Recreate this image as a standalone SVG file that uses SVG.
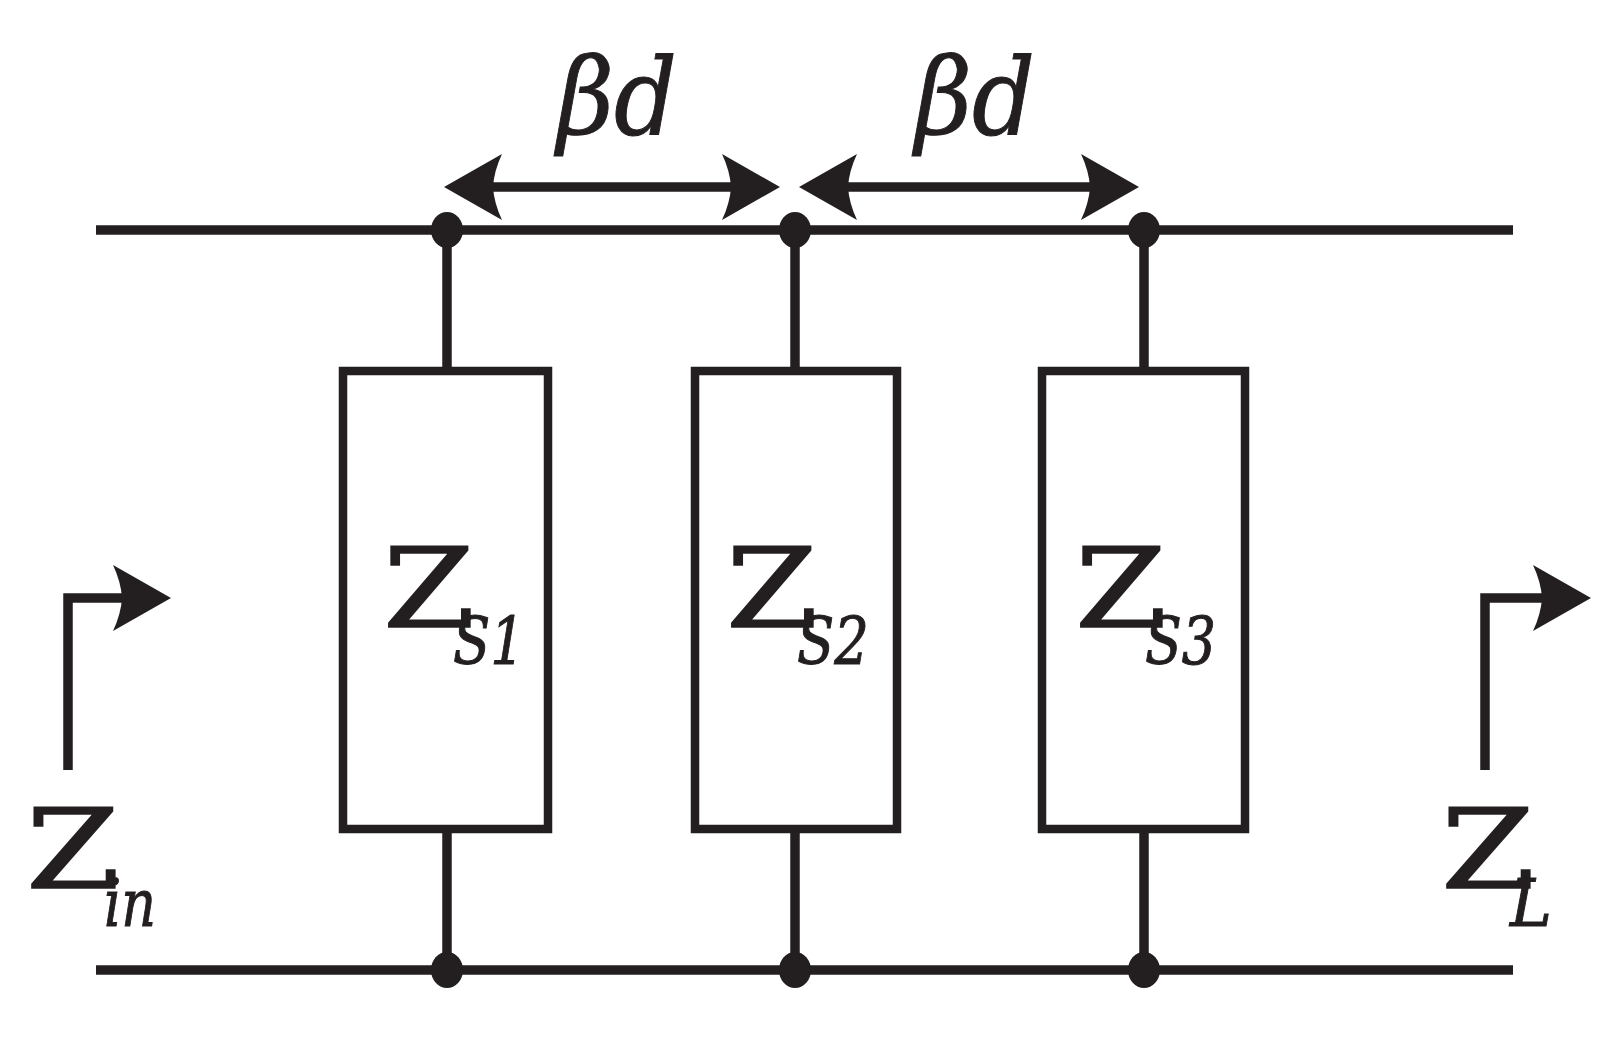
<svg xmlns="http://www.w3.org/2000/svg" width="1623" height="1038" viewBox="0 0 1623 1038">
<style>
.w{stroke:#231f20;stroke-width:9.5;fill:none}
.box{stroke:#231f20;stroke-width:8.5;fill:#fff}
.dot{fill:#231f20}
.ah{fill:#231f20}
.z{font-size:110px;stroke:#231f20;stroke-width:1.5}
.s{font-size:66px;font-style:italic;stroke:#231f20;stroke-width:1}
.bd{font-size:106px;font-style:italic;stroke:#231f20;stroke-width:1}
</style>
<defs>
<path id="head" d="M0,0 L58,-33 Q50,-16 49,0 Q50,16 58,33 Z"/>
</defs>
<rect width="1623" height="1038" fill="#fff"/>
<g id="connectors">
<line class="w" x1="96" y1="230" x2="1513" y2="230"/>
<line class="w" x1="96" y1="970" x2="1513" y2="970"/>
<line class="w" x1="447" y1="230" x2="447" y2="371"/>
<line class="w" x1="447" y1="829" x2="447" y2="970"/>
<line class="w" x1="795" y1="230" x2="795" y2="371"/>
<line class="w" x1="795" y1="829" x2="795" y2="970"/>
<line class="w" x1="1144" y1="230" x2="1144" y2="371"/>
<line class="w" x1="1144" y1="829" x2="1144" y2="970"/>
<line class="w" x1="485" y1="187" x2="740" y2="187"/>
<use href="#head" class="ah" transform="translate(444,187)"/>
<use href="#head" class="ah" transform="translate(780,187) scale(-1,1)"/>
<line class="w" x1="839" y1="187" x2="1100" y2="187"/>
<use href="#head" class="ah" transform="translate(799,187)"/>
<use href="#head" class="ah" transform="translate(1139,187) scale(-1,1)"/>
<polyline class="w" points="68,770 68,598 130,598"/>
<use href="#head" class="ah" transform="translate(171,598) scale(-1,1)"/>
<polyline class="w" points="1485,770 1485,598 1550,598"/>
<use href="#head" class="ah" transform="translate(1591,598) scale(-1,1)"/>
</g>
<g id="node-zs1" font-family="DejaVu Serif" fill="#231f20">
<rect class="box" x="343" y="371" width="205" height="458"/>
<text class="z" x="383" y="627" textLength="92" lengthAdjust="spacingAndGlyphs">Z</text>
<text class="s" x="453" y="664" textLength="72" lengthAdjust="spacingAndGlyphs">S1</text>
</g>
<g id="node-zs2" font-family="DejaVu Serif" fill="#231f20">
<rect class="box" x="695" y="371" width="202" height="458"/>
<text class="z" x="726" y="627" textLength="92" lengthAdjust="spacingAndGlyphs">Z</text>
<text class="s" x="797" y="664" textLength="72" lengthAdjust="spacingAndGlyphs">S2</text>
</g>
<g id="node-zs3" font-family="DejaVu Serif" fill="#231f20">
<rect class="box" x="1042" y="371" width="203" height="458"/>
<text class="z" x="1075" y="627" textLength="92" lengthAdjust="spacingAndGlyphs">Z</text>
<text class="s" x="1145" y="664" textLength="71" lengthAdjust="spacingAndGlyphs">S3</text>
</g>
<g id="junctions">
<ellipse class="dot" cx="447" cy="230" rx="16" ry="18"/>
<ellipse class="dot" cx="795" cy="230" rx="16" ry="18"/>
<ellipse class="dot" cx="1144" cy="230" rx="16" ry="18"/>
<ellipse class="dot" cx="447" cy="970" rx="16" ry="18"/>
<ellipse class="dot" cx="795" cy="970" rx="16" ry="18"/>
<ellipse class="dot" cx="1144" cy="970" rx="16" ry="18"/>
</g>
<g id="labels" font-family="DejaVu Serif" fill="#231f20">
<text class="bd" x="557" y="134" textLength="120" lengthAdjust="spacingAndGlyphs">βd</text>
<text class="bd" x="915" y="134" textLength="120" lengthAdjust="spacingAndGlyphs">βd</text>
<text class="z" x="26" y="888" textLength="94" lengthAdjust="spacingAndGlyphs">Z</text>
<text class="s" x="104" y="926" textLength="52" lengthAdjust="spacingAndGlyphs">in</text>
<text class="z" x="1441" y="888" textLength="94" lengthAdjust="spacingAndGlyphs">Z</text>
<text class="s" x="1510" y="926" textLength="42" lengthAdjust="spacingAndGlyphs">L</text>
</g>
</svg>
